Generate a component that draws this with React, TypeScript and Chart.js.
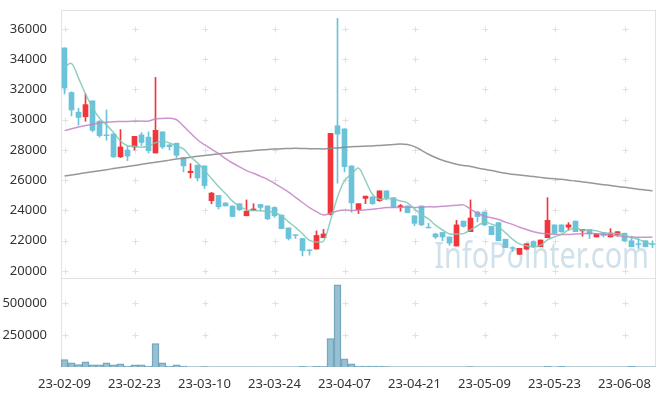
import React, { useEffect, useRef } from 'react';
import { Chart, registerables } from 'chart.js';
Chart.register(...registerables);

const dates = [
  '23-02-09','23-02-10','23-02-13','23-02-14','23-02-15','23-02-16','23-02-17','23-02-20','23-02-21','23-02-22',
  '23-02-23','23-02-24','23-02-27','23-02-28','23-03-02','23-03-03','23-03-06','23-03-07','23-03-08','23-03-09',
  '23-03-10','23-03-13','23-03-14','23-03-15','23-03-16','23-03-17','23-03-20','23-03-21','23-03-22','23-03-23',
  '23-03-24','23-03-27','23-03-28','23-03-29','23-03-30','23-03-31','23-04-03','23-04-04','23-04-05','23-04-06',
  '23-04-07','23-04-10','23-04-11','23-04-12','23-04-13','23-04-14','23-04-17','23-04-18','23-04-19','23-04-20',
  '23-04-21','23-04-24','23-04-25','23-04-26','23-04-27','23-04-28','23-05-02','23-05-03','23-05-04','23-05-08',
  '23-05-09','23-05-10','23-05-11','23-05-12','23-05-15','23-05-16','23-05-17','23-05-18','23-05-19','23-05-22',
  '23-05-23','23-05-24','23-05-25','23-05-26','23-05-30','23-05-31','23-06-01','23-06-02','23-06-05','23-06-07',
  '23-06-08','23-06-09','23-06-12','23-06-13','23-06-14',
];

const openP = [
  34750,31800,30500,30200,31250,29900,29000,29050,27550,28000,
  28200,29000,28850,27800,29200,28330,28450,27500,26500,27000,
  26950,24650,25000,24500,24300,24450,23650,24000,24400,24300,
  24200,23700,22850,22400,22150,21400,21450,22200,23750,29600,
  29400,26950,24050,24800,24900,24650,25300,24850,24250,24300,
  23650,24300,22900,22450,22550,22250,21650,23300,22600,23900,
  23900,22950,23200,22100,21550,21100,21450,21950,21600,22200,
  23050,23050,22900,23300,22650,22750,22250,22550,22250,22400,
  22500,22000,21800,22000,21800,
];
const highP = [
  34750,31850,30750,31700,31250,29950,30650,29100,29350,28250,
  28900,29150,29200,32800,29200,28400,28450,27500,27100,27000,
  26950,25200,25000,24500,24300,24450,24700,24450,24400,24300,
  24250,23700,22850,22400,22150,21400,22650,22750,29100,36700,
  29400,26950,24450,24950,24900,25300,25300,24850,24400,24300,
  23650,24300,23150,22500,22550,22250,23350,23300,24700,23950,
  23900,22950,23200,22100,21600,21500,21800,22000,22050,24850,
  23050,23050,23200,23300,22750,22750,22450,22550,22800,22600,
  22500,22300,22150,22000,22000,
];
const lowP = [
  31700,30250,29650,29900,29200,28850,28650,27500,27500,27300,
  28000,28300,27800,27800,28100,28000,27500,26550,26150,25950,
  25450,24450,24100,24300,23600,24000,23650,24000,24000,23400,
  23550,22800,22050,22150,21000,21050,21450,22200,23700,25800,
  26550,23900,23800,24450,24400,24600,24700,24200,23950,23850,
  23000,23000,22850,22150,22000,21700,21650,22900,22600,23250,
  23000,22400,22000,21550,21300,21100,21400,21550,21600,22200,
  22450,22550,22700,22600,22300,22150,22250,22250,22250,22300,
  21950,21600,21500,21600,21550,
];
const closeP = [
  32100,30650,30150,31000,29300,28950,28950,27550,28200,27600,
  28900,28500,27950,29300,28200,28220,27650,26950,26600,26150,
  25650,25150,24250,24300,23600,24050,23950,24100,24200,23450,
  23650,22800,22150,22350,21350,21350,22350,22450,29100,29050,
  26900,24500,24450,24950,24450,25300,24850,24250,24320,23850,
  23150,23050,22850,22250,22250,21850,23050,22950,23500,23600,
  23050,22400,22000,21550,21500,21500,21800,21600,22050,23350,
  22500,22600,23050,22600,22750,22450,22450,22350,22500,22600,
  22000,21600,21750,21600,21750,
];

const ma5 = [
  33500,33720,32750,31700,30800,30100,29660,29150,28600,28280,
  28240,28180,28260,28480,28580,28460,28260,28070,27550,27150,
  26650,26120,25580,25120,24620,24280,24040,24000,23980,23950,
  23870,23640,23250,22880,22460,22020,21920,21980,23350,24880,
  25980,26400,26800,25970,25060,24740,24800,24760,24630,24510,
  24090,23720,23440,23030,22710,22450,22450,22470,22720,22990,
  23230,23100,22910,22520,22100,21790,21670,21590,21690,22060,
  22260,22420,22710,22820,22700,22690,22660,22520,22500,22470,
  22380,22210,22090,21910,21740,
];
const ma20 = [
  29280,29400,29520,29620,29700,29780,29840,29870,29880,29890,
  29900,29910,29920,30050,30080,30100,30000,29580,29120,28680,
  28350,28060,27770,27430,27140,26880,26640,26460,26260,26060,
  25790,25510,25220,24870,24530,24190,23920,23700,23820,23970,
  24030,24000,24010,24040,24080,24140,24190,24200,24200,24220,
  24200,24210,24240,24240,24280,24310,24340,24370,24090,23820,
  23620,23520,23400,23230,23080,22890,22740,22600,22490,22470,
  22430,22410,22420,22440,22460,22490,22460,22430,22380,22330,
  22280,22240,22230,22230,22240,
];
const ma120 = [
  26280,26350,26420,26490,26560,26630,26700,26770,26840,26910,
  26980,27050,27120,27190,27260,27330,27400,27460,27520,27580,
  27640,27690,27740,27790,27840,27880,27920,27960,28000,28040,
  28070,28090,28100,28110,28100,28090,28080,28070,28100,28140,
  28180,28210,28230,28250,28270,28300,28330,28360,28400,28360,
  28220,27980,27720,27500,27320,27180,27060,26980,26910,26810,
  26720,26640,26550,26460,26400,26340,26290,26240,26190,26140,
  26100,26060,26000,25950,25890,25830,25770,25710,25650,25590,
  25530,25470,25410,25350,25300,
];
const volume = [
  58000,32000,18000,40000,16000,16000,32000,16000,24000,8000,
  16000,16000,8000,182000,32000,8000,16000,8000,2000,1500,
  2500,1200,1800,900,1500,1100,2200,800,1000,1600,
  1300,2100,1700,1200,6000,1500,6000,2500,221000,642000,
  63000,24000,8000,8000,8000,8000,2500,1800,1200,1600,
  2000,1400,900,1100,1300,1000,2200,1200,2600,1500,
  1300,900,1200,1000,800,1100,1300,900,1000,5000,
  1500,5000,1200,1000,900,1100,800,900,1200,1000,
  1100,5000,1000,900,800,
];

const priceTicks = [20000, 22000, 24000, 26000, 28000, 30000, 32000, 34000, 36000];
const volumeTicks = [250000, 500000];
const labelEvery = 10;

const UP = '#f0363a';
const DOWN = '#6bc3d9';

const decorPlugin = {
  id: 'decor',
  beforeDatasetsDraw(chart: any) {
    const { ctx, chartArea } = chart;
    const x = chart.scales.x;
    const yp = chart.scales.y;
    const yv = chart.scales.yv;
    ctx.save();
    // watermark
    ctx.save();
    ctx.fillStyle = 'rgba(170,200,220,0.55)';
    ctx.font = '36px "Noto Sans"';
    ctx.textBaseline = 'alphabetic';
    ctx.translate(chartArea.right - 7, yp.bottom - 10);
    ctx.scale(0.8, 1);
    ctx.textAlign = 'right';
    ctx.fillText('InfoPointer.com', 0, 0);
    ctx.restore();
    // crosses
    ctx.strokeStyle = '#e0e0e0';
    ctx.lineWidth = 1;
    const xs: number[] = [];
    for (let i = 0; i < dates.length; i += labelEvery) xs.push(Math.round(x.getPixelForValue(i)) + 0.5);
    const ys: number[] = [];
    priceTicks.forEach((v) => ys.push(Math.round(yp.getPixelForValue(v)) + 0.5));
    volumeTicks.forEach((v) => ys.push(Math.round(yv.getPixelForValue(v)) + 0.5));
    ctx.beginPath();
    xs.forEach((px) => {
      ys.forEach((py) => {
        ctx.moveTo(px - 3, py); ctx.lineTo(px + 3, py);
        ctx.moveTo(px, py - 3); ctx.lineTo(px, py + 3);
      });
    });
    ctx.stroke();
    // panel borders
    ctx.strokeStyle = '#e2e2e2';
    const l = Math.round(chartArea.left) + 0.5;
    const r = Math.round(chartArea.right) - 0.5;
    ctx.strokeRect(l, Math.round(yp.top) + 0.5, r - l, Math.round(yp.bottom) - Math.round(yp.top));
    ctx.strokeRect(l, Math.round(yv.top) + 0.5, r - l, Math.round(yv.bottom) - Math.round(yv.top) - 1);
    ctx.restore();
  },
};

export default function App() {
  const ref = useRef<HTMLCanvasElement>(null);
  useEffect(() => {
    if (!ref.current) return;
    Chart.defaults.font.family = '"Noto Sans", sans-serif';
    const colors = closeP.map((c, i) => (c >= openP[i] ? UP : DOWN));
    const noPad = (s: any) => { s.paddingTop = 0; s.paddingBottom = 0; s.paddingLeft = 0; s.paddingRight = 0; };
    const chart = new Chart(ref.current, {
      type: 'bar',
      data: {
        labels: dates,
        datasets: [
          { type: 'line', label: 'MA5', data: ma5, yAxisID: 'y', borderColor: 'rgba(125,200,182,0.85)', borderWidth: 1.5, pointRadius: 0, tension: 0.35, order: 0 } as any,
          { type: 'line', label: 'MA20', data: ma20, yAxisID: 'y', borderColor: 'rgba(196,130,196,0.85)', borderWidth: 1.5, pointRadius: 0, tension: 0.35, order: 0 } as any,
          { type: 'line', label: 'MA120', data: ma120, yAxisID: 'y', borderColor: 'rgba(140,140,140,0.9)', borderWidth: 1.5, pointRadius: 0, tension: 0.35, order: 0 } as any,
          { type: 'bar', label: 'body', data: openP.map((o, i) => [Math.min(o, closeP[i]), Math.max(o, closeP[i])]), yAxisID: 'y', backgroundColor: colors, barThickness: 5, grouped: false, borderWidth: 0, order: 1 } as any,
          { type: 'bar', label: 'wick', data: lowP.map((l, i) => [l, highP[i]]), yAxisID: 'y', backgroundColor: colors, barThickness: 1, grouped: false, borderWidth: 0, order: 2 } as any,
          { type: 'bar', label: 'volume', data: volume, yAxisID: 'yv', backgroundColor: 'rgba(140,186,206,0.9)', borderColor: '#6f9fb7', borderWidth: 1, barPercentage: 1, categoryPercentage: 1, grouped: false, order: 3 } as any,
        ],
      },
      options: {
        responsive: false,
        animation: false,
        layout: { padding: { left: 0, right: 9, top: 10, bottom: 0 } },
        plugins: { legend: { display: false }, tooltip: { enabled: false } },
        scales: {
          x: {
            type: 'category',
            offset: true,
            grid: { display: false },
            border: { display: false },
            ticks: {
              autoSkip: false,
              maxRotation: 0,
              minRotation: 0,
              padding: 1,
              color: '#333',
              font: { size: 13 },
              callback: (_v: any, i: number) => (i % labelEvery === 0 ? dates[i] : ''),
            },
            afterFit: (s: any) => { s.height = 29; noPad(s); },
          },
          yv: {
            type: 'linear',
            position: 'left',
            stack: 'panels',
            stackWeight: 89,
            min: 0,
            max: 695000,
            grid: { display: false },
            border: { display: false },
            ticks: { autoSkip: false, padding: 6, color: '#333', font: { size: 13 }, callback: (v: any) => String(v) },
            afterBuildTicks: (s: any) => { s.ticks = volumeTicks.map((v) => ({ value: v })); },
            afterFit: (s: any) => { s.width = 61; noPad(s); },
          },
          y: {
            type: 'linear',
            position: 'left',
            stack: 'panels',
            stackWeight: 268,
            min: 19537,
            max: 37256,
            grid: { display: false },
            border: { display: false },
            ticks: { autoSkip: false, padding: 6, color: '#333', font: { size: 13 }, callback: (v: any) => String(v) },
            afterBuildTicks: (s: any) => { s.ticks = priceTicks.map((v) => ({ value: v })); },
            afterFit: (s: any) => { s.width = 61; noPad(s); },
          },
        },
      } as any,
      plugins: [decorPlugin],
    });
    return () => chart.destroy();
  }, []);
  return (
    <div style={{ position: 'absolute', left: 0, top: 0, width: 665, height: 396, background: '#fff' }}>
      <canvas ref={ref} width={665} height={396} style={{ display: 'block' }} />
    </div>
  );
}
